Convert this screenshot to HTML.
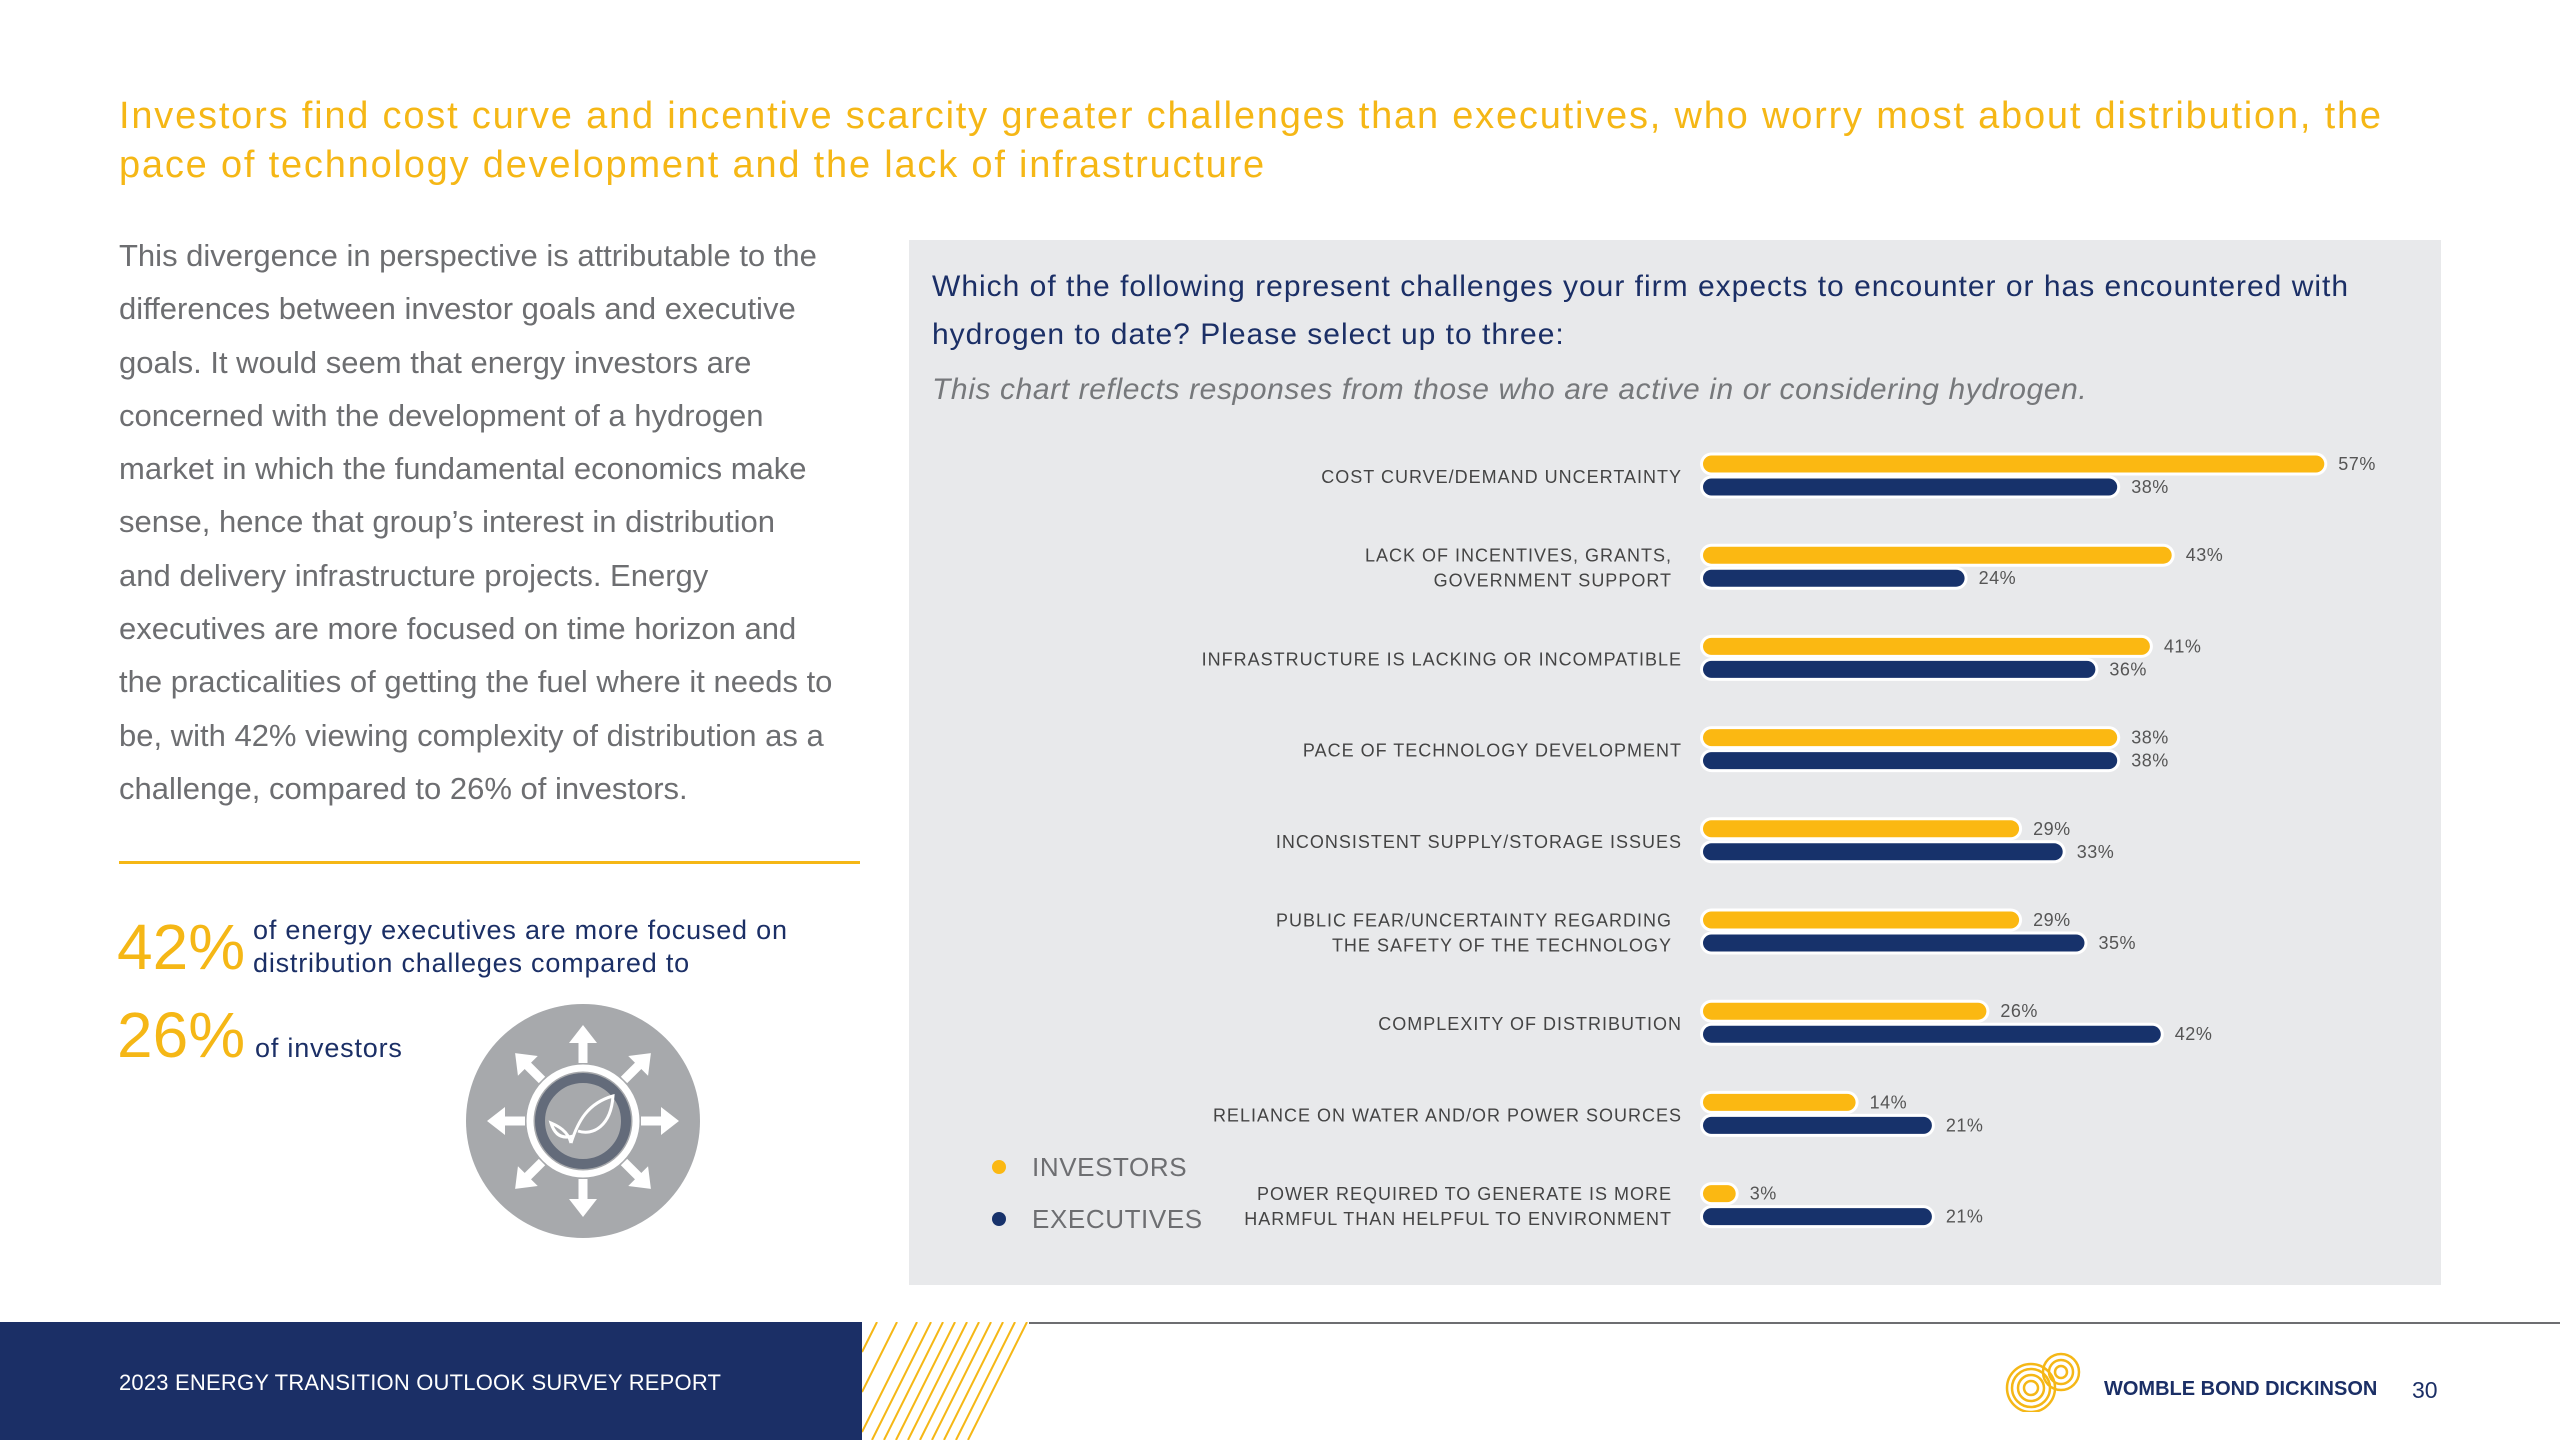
<!DOCTYPE html>
<html><head><meta charset="utf-8">
<style>
body{margin:0;width:2560px;height:1440px;position:relative;background:#fff;font-family:"Liberation Sans",sans-serif;overflow:hidden}
.a{position:absolute;white-space:nowrap}
</style></head><body>
<div class="a" style="left:119px;top:92px;font-size:38px;line-height:49px;letter-spacing:1.8px;color:#f5b716">Investors find cost curve and incentive scarcity greater challenges than executives, who worry most about distribution, the<br>pace of technology development and the lack of infrastructure</div>
<div class="a" style="left:119px;top:229px;font-size:31px;line-height:53.3px;color:#6d6e71">This divergence in perspective is attributable to the<br>differences between investor goals and executive<br>goals. It would seem that energy investors are<br>concerned with the development of a hydrogen<br>market in which the fundamental economics make<br>sense, hence that group’s interest in distribution<br>and delivery infrastructure projects. Energy<br>executives are more focused on time horizon and<br>the practicalities of getting the fuel where it needs to<br>be, with 42% viewing complexity of distribution as a<br>challenge, compared to 26% of investors.</div>
<div class="a" style="left:119px;top:861px;width:741px;height:3px;background:#f5b716"></div>
<div class="a" style="left:117px;top:910px;font-size:64px;color:#f5b716">42%</div>
<div class="a" style="left:253px;top:914px;font-size:27px;line-height:33px;letter-spacing:0.8px;color:#1b2f66">of energy executives are more focused on<br>distribution challeges compared to</div>
<div class="a" style="left:117px;top:998px;font-size:64px;color:#f5b716">26%</div>
<div class="a" style="left:255px;top:1033px;font-size:27px;letter-spacing:0.8px;color:#1b2f66">of investors</div>
<svg class="a" style="left:466px;top:1004px" width="234" height="234" viewBox="-117 -117 234 234">
<circle r="117" fill="#a7a9ac"/>
<g stroke="#fff" stroke-width="9" fill="#fff">
<g id="ar"><line x1="0" y1="-58" x2="0" y2="-80"/><polygon points="-14,-78 14,-78 0,-96" stroke="none"/></g>
<use href="#ar" transform="rotate(45)"/><use href="#ar" transform="rotate(90)"/><use href="#ar" transform="rotate(135)"/><use href="#ar" transform="rotate(180)"/><use href="#ar" transform="rotate(225)"/><use href="#ar" transform="rotate(270)"/><use href="#ar" transform="rotate(315)"/>
</g>
<circle r="53" fill="none" stroke="#fff" stroke-width="7"/>
<circle r="43" fill="#a7a9ac" stroke="#636b7a" stroke-width="10"/>
<path d="M-12,22 C-5,0 5,-18 30,-25 C28,5 10,15 -5,10 M-12,22 C-15,10 -25,5 -32,2 C-28,15 -20,18 -10,15" fill="none" stroke="#fff" stroke-width="3"/>
</svg>
<div class="a" style="left:909px;top:240px;width:1532px;height:1045px;background:#e8e9eb"></div>
<div class="a" style="left:932px;top:263px;font-size:30px;line-height:48px;letter-spacing:1px;color:#1b2f66">Which of the following represent challenges your firm expects to encounter or has encountered with<br>hydrogen to date? Please select up to three:</div>
<div class="a" style="left:932px;top:373px;font-size:30px;font-style:italic;letter-spacing:0.6px;color:#76787b">This chart reflects responses from those who are active in or considering hydrogen.</div>
<svg id="chart" class="a" style="left:0;top:0" width="2560" height="1440"></svg>
<div class="a" style="left:0;top:1322px;width:862px;height:118px;background:#1b2f66"></div>
<svg class="a" style="left:862px;top:1322px" width="168" height="118">
<g stroke="#f5b716" stroke-width="2">
<line x1="0" y1="30" x2="15" y2="0"/><line x1="0" y1="70" x2="35" y2="0"/><line x1="0" y1="110" x2="55" y2="0"/><line x1="10" y1="118" x2="69" y2="0"/><line x1="22" y1="118" x2="81" y2="0"/><line x1="34" y1="118" x2="93" y2="0"/><line x1="46" y1="118" x2="105" y2="0"/><line x1="58" y1="118" x2="117" y2="0"/><line x1="70" y1="118" x2="129" y2="0"/><line x1="82" y1="118" x2="141" y2="0"/><line x1="94" y1="118" x2="153" y2="0"/><line x1="106" y1="118" x2="165" y2="0"/>
</g></svg>
<div class="a" style="left:1029px;top:1322px;width:1531px;height:2px;background:#6d6e71"></div>
<div class="a" style="left:119px;top:1370px;font-size:22px;letter-spacing:0.2px;color:#fff">2023 ENERGY TRANSITION OUTLOOK SURVEY REPORT</div>
<svg class="a" style="left:2005px;top:1350px" width="92" height="62">
<g fill="none" stroke="#f5b716" stroke-width="2.5"><circle cx="26" cy="38" r="7"/><circle cx="26" cy="38" r="13"/><circle cx="26" cy="38" r="19"/><circle cx="26" cy="38" r="24"/><circle cx="56" cy="22" r="6"/><circle cx="56" cy="22" r="12"/><circle cx="56" cy="22" r="18"/></g></svg>
<div class="a" style="left:2104px;top:1378px;font-size:20px;font-weight:bold;color:#1b2f66">WOMBLE BOND DICKINSON</div>
<div class="a" style="left:2412px;top:1377px;font-size:23px;color:#1b2f66">30</div>
<script>
const categories=[["COST CURVE/DEMAND UNCERTAINTY"],["LACK OF INCENTIVES, GRANTS,","GOVERNMENT SUPPORT"],["INFRASTRUCTURE IS LACKING OR INCOMPATIBLE"],["PACE OF TECHNOLOGY DEVELOPMENT"],["INCONSISTENT SUPPLY/STORAGE ISSUES"],["PUBLIC FEAR/UNCERTAINTY REGARDING","THE SAFETY OF THE TECHNOLOGY"],["COMPLEXITY OF DISTRIBUTION"],["RELIANCE ON WATER AND/OR POWER SOURCES"],["POWER REQUIRED TO GENERATE IS MORE","HARMFUL THAN HELPFUL TO ENVIRONMENT"]];
const investors=[57,43,41,38,29,29,26,14,3];
const executives=[38,24,36,38,33,35,42,21,21];
const seriesNames=["INVESTORS","EXECUTIVES"];
const colors=["#fbb812","#17326b"];
const NS="http://www.w3.org/2000/svg";
const svg=document.getElementById('chart');
const x0=1703, pxPer=10.9, y0=464, step=91.2, h=17;
const xs=v=>x0+v*pxPer;
const ys=i=>y0+i*step;
function mk(t,attrs){const e=document.createElementNS(NS,t);for(const k in attrs)e.setAttribute(k,attrs[k]);svg.appendChild(e);return e;}
categories.forEach((c,i)=>{
  [investors[i],executives[i]].forEach((v,s)=>{
    const cy=ys(i)+s*23;
    const w=Math.max(xs(v)-x0,h);
    const r=mk('rect',{x:x0-3,y:cy-h/2-3,width:w+6,height:h+6,rx:(h+6)/2,fill:'#fff'});
    
    
    const b=mk('rect',{x:x0,y:cy-h/2,width:w,height:h,rx:h/2,fill:colors[s]});
    
    
    const t=mk('text',{x:x0+w+14,y:cy+6,'font-size':18,'letter-spacing':0.5,fill:'#555','font-family':'Liberation Sans, sans-serif'});
    t.textContent=v+'%';
    
    
  });
  const mid=ys(i)+12;
  c.forEach((line,j)=>{
    const t=mk('text',{x:1682-(c.length>1?10:0),y:mid+7+(c.length>1?(j-0.5)*25:0),'text-anchor':'end','font-size':18,'letter-spacing':1,fill:'#444','font-family':'Liberation Sans, sans-serif'});
    t.textContent=line;
    
    
  });
});
seriesNames.forEach((n,s)=>{
  const cy=1167+s*52;
  const d=mk('circle',{cx:999,cy:cy,r:7,fill:colors[s]});
  
  
  const t=mk('text',{x:1032,y:cy+9,'font-size':26,'letter-spacing':0.6,fill:'#6d6e71','font-family':'Liberation Sans, sans-serif'});
  t.textContent=n;
  
  
});
</script>
</body></html>
